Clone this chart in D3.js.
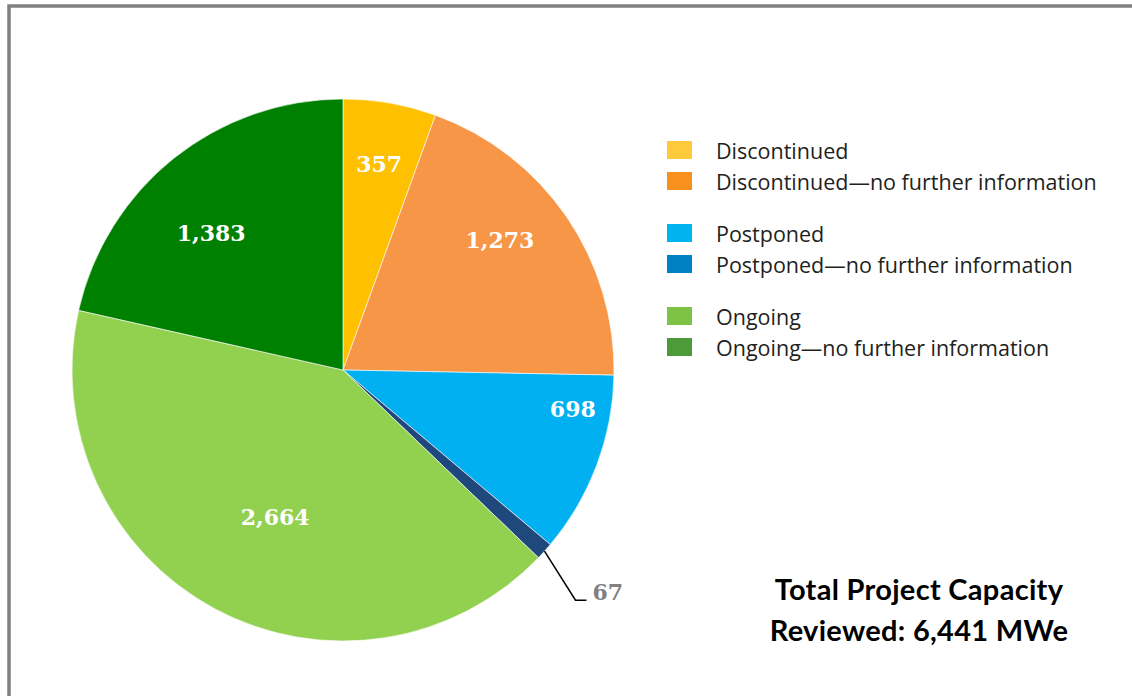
<!DOCTYPE html>
<html><head><meta charset="utf-8">
<script src="https://cdn.jsdelivr.net/npm/d3@7"></script>
<style>html,body{margin:0;padding:0;background:#fff;}</style>
</head><body>
<script>
// ---- data ----
const categories = ["Discontinued","Discontinued\u2014no further information","Postponed","Postponed\u2014no further information","Ongoing","Ongoing\u2014no further information"];
const values = [357, 1273, 698, 67, 2664, 1383];
const valueLabels = ["357","1,273","698","67","2,664","1,383"];
const totalLines = ["Total Project Capacity","Reviewed: 6,441 MWe"];

// ---- styles / layout ----
const sliceColors = ["#FFC000","#F79646","#00B0F0","#1F497D","#92D050","#008000"];
const legendColors = ["#FFC93C","#F7901E","#00B5EF","#0081C6","#7DC242","#4D9A3A"];
// label placement per slice: [fraction of radius, angle shift in degrees]
const labelPlacement = [[0.77,0],[0.75,-5],[0.86,-11],[1,0],[0.6,-3.6],[0.7,-5.4]];

const W = 1132, H = 696;
const svg = d3.select("body").append("svg").attr("width", W).attr("height", H);

// frame
svg.append("path").attr("d", `M9,${H} L9,6 L${W},6`).attr("fill","none").attr("stroke","#808080").attr("stroke-width",3.5);

const cx = 343, cy = 370, R = 271;
const g = svg.append("g").attr("transform", `translate(${cx},${cy})`);
const pie = d3.pie().sort(null).value(d => d)(values);
const arc = d3.arc().innerRadius(0).outerRadius(R);
g.selectAll("path.slice").data(pie).join("path").attr("class","slice")
  .attr("d", arc).attr("fill", (d,i) => sliceColors[i])
  .attr("stroke","#ffffff").attr("stroke-width",0.6);

const smallIdx = 3;
function labelPos(d){
  const [f, shift] = labelPlacement[d.index];
  const a = (d.startAngle + d.endAngle)/2 + shift*Math.PI/180;
  return [R*f*Math.sin(a), -R*f*Math.cos(a)];
}
g.selectAll("text.val").data(pie.filter((d,i)=>i!==smallIdx)).join("text").attr("class","val")
  .attr("transform", d => `translate(${labelPos(d)})`)
  .attr("text-anchor","middle").attr("dy","0.35em")
  .attr("font-family","'DejaVu Serif', serif").attr("font-weight","bold").attr("font-size",22)
  .attr("fill","#fff").text(d => valueLabels[d.index]);

// leader for small slice
{
  const d = pie[smallIdx];
  const a = (d.startAngle + d.endAngle)/2;
  const p0 = [R*Math.sin(a), -R*Math.cos(a)];
  const p1 = [p0[0] + 31, p0[1] + 49];
  const p2 = [p1[0] + 11, p1[1]];
  g.append("polyline").attr("points", [p0,p1,p2].map(p=>p.join(",")).join(" "))
    .attr("fill","none").attr("stroke","#000").attr("stroke-width",1.5);
  g.append("text").attr("x", p2[0]+6).attr("y", p2[1])
    .attr("font-family","'DejaVu Serif', serif").attr("font-weight","bold").attr("font-size",22)
    .attr("fill","#808080").text(valueLabels[smallIdx]);
}

// legend
const legendY = [150,181,233,264,316,347];
const lg = svg.append("g");
categories.forEach((c,i) => {
  lg.append("rect").attr("x",667).attr("y",legendY[i]-9).attr("width",25).attr("height",18).attr("fill",legendColors[i]);
  lg.append("text").attr("x",716).attr("y",legendY[i]+1).attr("dy","0.35em")
    .attr("font-family","'Open Sans', sans-serif").attr("font-size",21.5).attr("fill","#231F20").text(c);
});

// total
totalLines.forEach((t,i) => {
  svg.append("text").attr("x",919).attr("y",600 + i*41).attr("text-anchor","middle")
    .attr("font-family","Lato, sans-serif").attr("font-weight","bold").attr("font-size",29)
    .attr("letter-spacing",0.3)
    .attr("fill","#000").text(t);
});
</script>
</body></html>
